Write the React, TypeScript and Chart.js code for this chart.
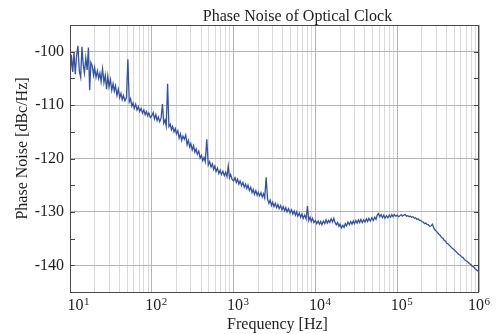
import React, { useEffect, useRef } from 'react';
import { Chart, registerables } from 'chart.js';

Chart.register(...registerables);

const chartTitle = 'Phase Noise of Optical Clock';
const xAxisTitle = 'Frequency [Hz]';
const yAxisTitle = 'Phase Noise [dBc/Hz]';

const freqDecade1 = [
  10, 10.4, 10.8, 11.2, 11.6, 12, 12.5, 13, 13.5, 14, 14.5, 15, 15.6, 16.2, 16.8, 17.4, 18, 18.7, 19.4, 20,
  20.8, 21.6, 22.4, 23.2, 24, 25, 26, 27, 28, 29, 30, 31.2, 32.4, 33.6, 34.8, 36, 37.5, 39, 40.5, 42,
  43.5, 45, 47, 49, 51, 53, 55, 57, 59, 61, 63.5, 66, 68.5, 71, 74, 77, 80, 83, 86, 89, 92, 96,
];
const freqDecade2 = [
  100, 104, 108, 112, 116, 120, 125, 130, 135, 140, 145, 150, 156, 162, 168, 174, 180, 187, 194, 200,
  208, 216, 224, 232, 240, 250, 260, 270, 280, 290, 300, 312, 324, 336, 348, 360, 375, 390, 405, 420,
  435, 450, 470, 490, 510, 530, 550, 570, 590, 610, 635, 660, 685, 710, 740, 770, 800, 830, 860, 890, 920, 960,
];
const freqDecade3 = [
  1000, 1040, 1080, 1120, 1160, 1200, 1250, 1300, 1350, 1400, 1450, 1500, 1560, 1620, 1680, 1740, 1800, 1870, 1940, 2000,
  2080, 2160, 2240, 2320, 2400, 2500, 2600, 2700, 2800, 2900, 3000, 3120, 3240, 3360, 3480, 3600, 3750, 3900, 4050, 4200,
  4350, 4500, 4700, 4900, 5100, 5300, 5500, 5700, 5900, 6100, 6350, 6600, 6850, 7100, 7400, 7700, 8000, 8300, 8600, 8900, 9200, 9600,
];
const freqDecade4 = [
  10000, 10400, 10800, 11200, 11600, 12000, 12500, 13000, 13500, 14000, 14500, 15000, 15600, 16200, 16800, 17400, 18000, 18700, 19400, 20000,
  20800, 21600, 22400, 23200, 24000, 25000, 26000, 27000, 28000, 29000, 30000, 31200, 32400, 33600, 34800, 36000, 37500, 39000, 40500, 42000,
  43500, 45000, 47000, 49000, 51000, 53000, 55000, 57000, 59000, 61000, 63500, 66000, 68500, 71000, 74000, 77000, 80000, 83000, 86000, 89000, 92000, 96000,
];
const freqDecade5 = [
  100000, 104000, 108000, 112000, 116000, 120000, 125000, 130000, 135000, 140000, 145000, 150000, 156000, 162000, 168000, 174000, 180000, 187000, 194000, 200000,
  208000, 216000, 224000, 232000, 240000, 250000, 260000, 270000, 280000, 290000, 300000, 312000, 324000, 336000, 348000, 360000, 375000, 390000, 405000, 420000,
  435000, 450000, 470000, 490000, 510000, 530000, 550000, 570000, 590000, 610000, 635000, 660000, 685000, 710000, 740000, 770000, 800000, 830000, 860000, 890000, 920000, 960000,
  1000000,
];

const noiseDecade1 = [
  -105.0, -100.6, -103.8, -100.2, -104.2, -101.0, -98.9, -103.6, -104.8, -99.1, -102.4, -104.0, -101.2, -103.4, -99.2, -107.2, -102.0, -102.6, -104.4, -103.0,
  -104.8, -103.6, -105.0, -104.0, -105.6, -103.2, -105.8, -104.4, -107.0, -104.6, -106.6, -105.2, -107.2, -106.0, -107.4, -106.4, -108.2, -107.0, -108.6, -107.8,
  -109.0, -108.2, -109.2, -108.6, -101.4, -109.4, -108.8, -110.2, -109.6, -110.6, -109.8, -110.9, -110.3, -111.2, -110.6, -111.5, -110.9, -111.8, -111.2, -112.0, -111.5, -112.3,
];
const noiseDecade2 = [
  -112.0, -111.4, -112.6, -111.8, -112.9, -112.2, -113.1, -112.4, -109.8, -113.4, -112.8, -113.9, -106.0, -114.0, -113.6, -114.6, -114.0, -115.0, -114.4, -115.4,
  -114.8, -116.2, -115.4, -116.6, -115.8, -116.4, -115.6, -117.4, -116.6, -117.8, -117.2, -118.4, -117.6, -118.8, -118.2, -119.2, -118.6, -119.9, -119.4, -120.4,
  -119.8, -120.6, -116.4, -121.2, -120.6, -121.6, -121.0, -122.0, -121.4, -122.4, -121.8, -122.8, -122.2, -123.0, -122.4, -123.2, -122.6, -123.4, -121.4, -123.6, -123.0, -123.9,
];
const noiseDecade3 = [
  -124.2, -123.6, -124.5, -123.9, -124.8, -124.2, -125.1, -124.5, -125.4, -124.8, -125.6, -125.0, -126.0, -125.4, -126.4, -125.8, -126.7, -126.0, -126.9, -126.3,
  -127.0, -126.4, -127.2, -126.6, -127.4, -123.5, -127.6, -128.4, -127.8, -128.8, -128.2, -129.0, -128.4, -129.2, -128.6, -129.4, -128.8, -129.6, -129.0, -129.8,
  -129.2, -130.0, -129.4, -130.2, -129.6, -130.4, -129.8, -130.6, -130.0, -130.8, -130.2, -131.0, -130.4, -131.2, -130.6, -131.3, -128.9, -131.6, -131.0, -131.8, -131.2, -132.0,
];
const noiseDecade4 = [
  -131.6, -132.2, -131.7, -132.3, -131.8, -132.4, -131.7, -132.2, -131.5, -132.1, -131.6, -132.0, -131.3, -131.9, -131.2, -132.0, -132.4, -132.0, -132.7, -132.3,
  -133.0, -132.5, -132.9, -132.2, -132.6, -131.9, -132.4, -131.8, -132.3, -131.7, -132.2, -131.6, -132.1, -131.5, -132.0, -131.4, -132.0, -131.5, -131.9, -131.3,
  -131.8, -131.2, -131.7, -131.1, -131.6, -131.0, -131.4, -130.6, -130.3, -130.9, -130.5, -131.1, -130.6, -131.2, -130.7, -131.1, -130.6, -131.0, -130.5, -130.9, -130.5, -130.8,
];
const noiseDecade5 = [
  -130.6, -130.9, -130.7, -130.5, -130.8, -130.6, -130.5, -130.8, -130.7, -130.9, -130.8, -131.0, -130.9, -131.2, -131.1, -131.4, -131.3, -131.6, -131.6, -131.8,
  -131.9, -132.2, -132.1, -132.4, -132.4, -132.7, -132.6, -132.3, -133.0, -133.4, -133.6, -133.9, -134.2, -134.4, -134.8, -134.9, -135.3, -135.5, -135.9, -136.0,
  -136.3, -136.5, -136.8, -137.0, -137.3, -137.5, -137.8, -138.0, -138.1, -138.4, -138.5, -138.9, -139.1, -139.2, -139.5, -139.7, -139.9, -140.2, -140.3, -140.6, -140.8, -141.0,
  -141.3,
];

const frequencies = [...freqDecade1, ...freqDecade2, ...freqDecade3, ...freqDecade4, ...freqDecade5];
const phaseNoise = [...noiseDecade1, ...noiseDecade2, ...noiseDecade3, ...noiseDecade4, ...noiseDecade5];

const yTickValues = [-140, -130, -120, -110, -100];
const yMinorTickValues = [-145, -140, -135, -130, -125, -120, -115, -110, -105, -100, -95];
const xTickExponents = [1, 2, 3, 4, 5, 6];

const FONT = '"Liberation Serif", "Times New Roman", serif';
const MAJOR_GRID = '#b4b4b4';
const MINOR_GRID = '#dadada';
const TEXT = '#1e1e1e';

const isDecade = (v: number) => {
  const l = Math.log10(v);
  return Math.abs(l - Math.round(l)) < 1e-9;
};

const decorPlugin = {
  id: 'decor',
  afterDraw(chart: any) {
    const { ctx, chartArea: a, scales } = chart;
    const xs = scales.x;
    const ys = scales.y;
    ctx.save();
    ctx.strokeStyle = '#4a4a4a';
    ctx.lineWidth = 1;
    ctx.beginPath();
    for (const v of yMinorTickValues) {
      const py = Math.round(ys.getPixelForValue(v)) + 0.5;
      ctx.moveTo(a.left, py);
      ctx.lineTo(a.left + 5, py);
      ctx.moveTo(a.right, py);
      ctx.lineTo(a.right - 5, py);
    }
    ctx.stroke();
    ctx.strokeRect(a.left + 0.5, a.top + 0.5, a.right - a.left - 1, a.bottom - a.top);

    ctx.fillStyle = TEXT;
    ctx.font = `16px ${FONT}`;
    ctx.textAlign = 'center';
    ctx.textBaseline = 'alphabetic';
    ctx.fillText(chartTitle, (a.left + a.right) / 2 + 23, 20.5);
    ctx.fillText(xAxisTitle, (a.left + a.right) / 2 + 3, 328.5);
    ctx.save();
    ctx.translate(26.5, (a.top + a.bottom) / 2 - 10);
    ctx.rotate(-Math.PI / 2);
    ctx.fillText(yAxisTitle, 0, 0);
    ctx.restore();
    ctx.textAlign = 'left';
    xTickExponents.forEach((e, i) => {
      const px = xs.getPixelForValue(Math.pow(10, e));
      let shift = -6.5;
      if (i === 0) shift = -2.6;
      if (i === xTickExponents.length - 1) shift = -11;
      ctx.font = `16px ${FONT}`;
      ctx.fillText('10', px + shift, 310);
      const w = ctx.measureText('10').width;
      ctx.font = `11px ${FONT}`;
      ctx.fillText(String(e), px + shift + w + 0.5, 304.5);
    });
    ctx.restore();
  },
};

export default function App() {
  const ref = useRef<HTMLCanvasElement>(null);
  useEffect(() => {
    document.body.style.margin = '0';
    const canvas = ref.current;
    if (!canvas) return;
    const chart = new Chart(canvas, {
      type: 'line',
      data: {
        datasets: [
          {
            data: frequencies.map((f, i) => ({ x: f, y: phaseNoise[i] })),
            borderColor: '#3452a4',
            borderWidth: 1.3,
            pointRadius: 0,
            tension: 0,
            fill: false,
          },
        ],
      },
      options: {
        responsive: false,
        animation: false,
        devicePixelRatio: 1,
        layout: { padding: { top: 25, right: 19, left: 0, bottom: 0 } },
        plugins: {
          legend: { display: false },
          title: { display: false },
          tooltip: { enabled: false },
        },
        scales: {
          x: {
            type: 'logarithmic',
            min: 10,
            max: 1000000,
            afterBuildTicks: (s: any) => {
              const t: any[] = [];
              for (let e = 1; e <= 6; e++) {
                for (let m = 1; m <= 9; m++) {
                  const v = m * Math.pow(10, e);
                  if (v <= 1000000) t.push({ value: v });
                }
              }
              s.ticks = t;
            },
            afterFit: (s: any) => {
              s.height = 42;
            },
            ticks: { display: false, autoSkip: false },
            grid: {
              drawTicks: false,
              lineWidth: 1,
              color: (c: any) => (c.tick && isDecade(c.tick.value) ? MAJOR_GRID : MINOR_GRID),
            },
            border: { display: false },
          },
          y: {
            type: 'linear',
            min: -145,
            max: -95,
            afterBuildTicks: (s: any) => {
              s.ticks = yTickValues.map((v) => ({ value: v }));
            },
            afterFit: (s: any) => {
              s.width = 70;
            },
            ticks: {
              font: { family: FONT, size: 16 },
              color: TEXT,
              padding: 6,
              callback: (v: any) => String(v),
            },
            grid: { drawTicks: false, color: MAJOR_GRID, lineWidth: 1 },
            border: { display: false },
          },
        },
      } as any,
      plugins: [decorPlugin],
    });
    return () => chart.destroy();
  }, []);
  return (
    <div style={{ width: 498, height: 334 }}>
      <canvas ref={ref} width={498} height={334} style={{ display: 'block', width: 498, height: 334 }} />
    </div>
  );
}
